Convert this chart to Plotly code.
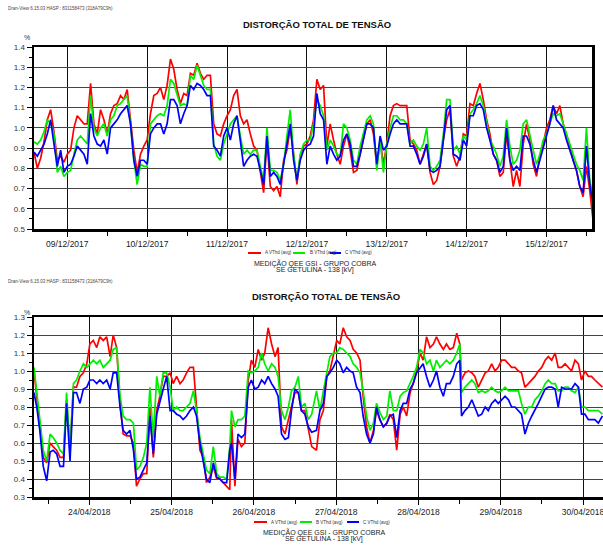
import pandas as pd
import plotly.graph_objects as go

# ---------------- data: top chart (hourly from 08/12/2017 14:00) ----------------
top_start = "2017-12-08 14:00"
top_A = [0.88,0.80,0.85,0.93,1.04,1.09,0.98,0.84,0.86,0.83,0.87,0.89,1.00,1.06,1.04,1.02,1.02,1.22,1.02,0.97,
         1.09,1.04,0.97,1.07,1.11,1.12,1.16,1.14,1.19,1.04,0.89,0.78,0.87,0.91,0.94,1.07,1.16,1.17,1.20,1.14,
         1.21,1.34,1.29,1.19,1.12,1.17,1.16,1.27,1.26,1.32,1.27,1.24,1.26,1.26,1.02,0.97,0.96,1.02,1.06,1.09,
         1.16,1.19,1.06,1.02,1.04,0.97,0.91,0.89,0.78,0.68,0.94,0.71,0.69,0.71,0.66,0.84,0.89,1.00,0.87,0.72,
         0.86,0.91,0.92,0.96,1.04,1.24,1.19,1.21,0.91,1.02,0.94,0.87,0.82,0.91,0.97,0.89,0.78,0.79,0.87,0.94,
         1.02,1.04,0.97,0.81,0.94,0.82,0.92,1.06,1.11,1.12,1.11,1.11,1.11,0.94,0.92,0.89,0.82,0.87,0.92,0.78,
         0.72,0.74,0.81,0.94,1.04,1.09,0.86,0.81,0.86,0.97,0.96,1.12,1.11,1.17,1.22,1.14,1.04,0.97,0.87,0.84,
         0.76,0.78,0.97,0.84,0.71,0.79,0.71,0.92,1.02,0.94,0.82,0.76,0.86,0.92,1.00,1.04,1.11,1.07,1.11,1.02,
         0.97,0.91,0.84,0.79,0.71,0.66,0.81,0.69,0.54]
top_B = [0.93,0.92,0.94,0.98,1.04,1.02,0.97,0.78,0.81,0.76,0.78,0.79,0.87,0.94,0.96,0.94,0.92,1.16,1.00,0.96,
         1.00,1.02,0.96,1.04,1.06,1.11,1.12,1.14,1.16,1.02,0.84,0.72,0.82,0.81,0.81,1.02,1.04,1.06,1.07,1.06,
         1.11,1.24,1.22,1.17,1.11,1.12,1.11,1.26,1.24,1.31,1.26,1.21,1.19,1.19,0.92,0.86,0.84,0.92,0.97,1.02,
         1.04,1.06,0.96,0.87,0.89,0.87,0.89,0.89,0.81,0.74,1.00,0.79,0.79,0.78,0.74,0.82,0.96,1.09,0.87,0.74,
         0.87,0.92,0.94,0.94,1.02,1.14,1.11,1.06,0.89,0.94,0.91,0.87,0.86,1.02,1.00,0.94,0.84,0.82,0.91,0.97,
         1.04,1.06,1.02,0.79,0.94,0.78,0.92,1.00,1.06,1.06,1.04,1.04,1.02,0.92,0.94,0.91,0.89,0.92,1.00,0.81,
         0.79,0.81,0.84,0.97,1.14,1.14,0.89,0.91,0.87,0.96,0.94,1.07,1.09,1.12,1.16,1.11,1.02,0.94,0.91,0.87,
         0.81,0.86,1.04,0.91,0.82,0.84,0.89,1.02,1.04,0.96,0.89,0.82,0.87,0.94,0.97,1.02,1.07,1.06,1.07,1.02,
         0.97,0.91,0.86,0.82,0.79,0.74,1.00,0.74,0.66]
top_C = [0.88,0.86,0.89,0.92,0.97,1.04,0.92,0.81,0.89,0.78,0.81,0.82,0.86,0.91,0.89,0.87,0.82,1.07,0.96,0.92,
         0.91,0.94,0.87,1.00,1.02,1.04,1.07,1.09,1.11,1.02,0.84,0.76,0.84,0.84,0.82,0.97,1.00,1.02,1.02,0.97,
         1.02,1.14,1.14,1.11,1.02,1.07,1.11,1.21,1.19,1.22,1.21,1.19,1.16,1.16,0.91,0.89,0.86,0.96,1.00,0.94,
         1.02,1.06,0.92,0.81,0.84,0.86,0.87,0.86,0.79,0.72,0.96,0.76,0.78,0.76,0.72,0.82,0.94,1.02,0.84,0.74,
         0.84,0.89,0.91,0.92,0.96,1.17,1.07,1.04,0.82,0.91,0.87,0.84,0.86,0.94,0.97,0.92,0.81,0.81,0.87,0.94,
         1.02,1.02,1.00,0.82,0.96,0.89,0.91,0.97,1.02,1.04,1.02,1.02,1.02,0.91,0.91,0.87,0.82,0.86,0.92,0.79,
         0.78,0.79,0.81,0.94,1.09,1.11,0.87,0.86,0.84,0.94,0.91,1.06,1.06,1.11,1.12,1.09,1.00,0.94,0.87,0.84,
         0.78,0.81,1.00,0.84,0.79,0.81,0.79,0.96,0.96,0.92,0.84,0.78,0.84,0.91,0.97,1.02,1.11,1.04,1.02,1.00,
         0.94,0.89,0.84,0.79,0.71,0.68,0.91,0.72,0.62]
top_range = ["2017-12-08 14:00", "2017-12-15 13:40"]
top_ticks0 = "2017-12-09"

# ---------------- data: bottom chart (hours after 23/04/2018 07:52) ----------------
bot_start = "2018-04-23 07:52"
bot_hours = [0.0,0.8,1.7,2.7,3.7,4.7,5.6,6.6,7.6,8.6,9.5,10.5,11.5,12.4,13.4,14.4,15.4,16.3,17.3,18.3,
             19.2,20.2,21.2,22.2,23.1,24.1,25.1,26.0,27.0,28.0,29.0,29.9,30.9,31.9,32.9,33.8,34.8,35.8,36.7,37.7,
             38.7,39.7,40.6,41.6,42.6,43.5,44.5,45.5,46.5,47.4,48.4,49.4,50.3,51.3,52.3,53.3,54.2,55.2,56.2,57.1,
             57.6,58.6,59.5,60.5,61.5,62.5,63.4,64.4,65.4,66.4,67.3,68.3,69.3,70.3,71.2,72.2,73.2,74.2,75.1,76.1,
             77.1,78.0,79.0,80.0,81.0,82.4,83.4,84.4,85.4,86.3,87.3,88.3,89.2,90.2,91.2,92.2,93.1,94.1,95.1,96.0,
             97.0,98.0,99.0,99.9,100.9,101.9,102.9,103.8,104.8,105.8,106.8,107.7,108.7,109.7,110.6,111.6,112.6,113.5,114.5,115.5,
             116.5,117.4,118.4,119.4,120.3,121.3,122.3,123.3,124.2,124.7,125.7,126.7,127.7,128.6,129.6,130.6,131.6,132.5,133.5,134.5,
             135.4,136.4,137.4,138.4,139.3,140.3,141.3,142.2,143.2,144.2,145.2,146.1,147.1,148.1,149.1,150.0,151.0,152.0,152.9,153.9,
             154.9,155.8,156.8,157.8,158.8,159.7,160.7,161.7,162.6,163.6,164.6,165.8]
bot_A = [1.00,0.86,0.71,0.52,0.49,0.60,0.58,0.56,0.52,0.52,0.84,0.56,0.91,0.91,0.97,0.99,1.04,1.15,1.17,1.13,
         1.19,1.17,1.19,1.08,1.20,1.13,0.82,0.65,0.64,0.64,0.60,0.36,0.40,0.43,0.43,0.80,0.52,0.78,0.86,0.97,
         0.97,0.99,0.93,0.97,0.93,0.95,0.99,1.02,1.02,0.78,0.56,0.52,0.38,0.41,0.47,0.40,0.40,0.38,0.36,0.34,
         0.73,0.36,0.62,0.58,0.60,0.95,1.06,1.02,1.12,1.06,1.10,1.24,1.15,1.08,1.13,0.69,0.65,0.73,0.80,0.88,
         0.88,0.78,0.78,0.67,0.58,0.56,0.73,0.78,0.97,1.00,1.08,1.17,1.15,1.24,1.19,1.17,1.12,1.10,1.06,0.86,
         0.69,0.60,0.67,0.78,0.73,0.69,0.71,0.76,0.73,0.56,0.76,0.80,0.75,0.88,0.93,1.00,1.10,1.06,1.19,1.13,
         1.15,1.19,1.15,1.12,1.15,1.12,1.13,1.21,1.15,0.95,0.99,1.00,0.99,0.97,0.91,0.95,0.99,1.00,1.04,1.00,
         1.02,1.06,1.06,1.04,1.02,1.02,1.00,0.99,0.91,0.93,0.95,0.97,1.00,1.02,1.06,1.08,1.06,1.10,1.02,1.02,
         1.04,1.02,1.00,1.06,1.04,0.95,1.00,0.97,0.97,0.95,0.93,0.91]
bot_B = [1.02,0.89,0.75,0.56,0.50,0.65,0.63,0.60,0.56,0.54,0.88,0.56,0.93,0.95,1.00,1.04,1.02,1.04,1.06,1.04,
         1.06,1.02,1.04,1.06,1.12,1.13,0.86,0.75,0.73,0.73,0.71,0.45,0.47,0.52,0.60,0.91,0.63,0.97,0.86,0.99,
         0.99,0.91,0.78,0.80,0.78,0.78,0.80,0.82,0.89,0.78,0.63,0.54,0.45,0.43,0.58,0.43,0.41,0.41,0.40,0.58,
         0.78,0.69,0.73,0.73,0.75,1.00,0.99,1.00,1.02,1.10,1.04,1.00,1.04,1.02,0.97,0.78,0.73,0.80,0.89,0.91,
         0.97,0.80,0.82,0.73,0.76,0.89,0.78,0.89,1.00,1.08,1.10,1.10,1.13,1.12,1.10,1.08,1.04,1.02,0.99,0.89,
         0.75,0.67,0.71,0.82,0.77,0.73,0.75,0.89,0.78,0.78,0.86,0.88,0.89,0.93,0.97,1.02,1.12,1.10,1.04,1.06,
         1.00,1.06,1.02,1.04,1.06,1.04,1.06,1.10,1.15,0.88,0.91,0.93,0.95,0.93,0.88,0.89,0.88,0.89,0.91,0.89,
         0.88,0.89,0.91,0.89,0.89,0.89,0.89,0.82,0.76,0.80,0.80,0.84,0.86,0.89,0.93,0.95,0.93,0.93,0.89,0.89,
         0.91,0.91,0.89,0.88,0.91,0.80,0.80,0.78,0.78,0.78,0.78,0.76]
bot_C = [0.88,0.80,0.67,0.47,0.39,0.55,0.56,0.54,0.47,0.47,0.82,0.50,0.88,0.88,0.82,0.90,0.91,0.95,0.95,0.93,
         0.95,0.93,0.95,0.90,0.99,0.99,0.80,0.67,0.65,0.67,0.56,0.40,0.41,0.45,0.49,0.75,0.54,0.76,0.82,0.90,
         0.97,0.78,0.78,0.76,0.75,0.73,0.75,0.78,0.80,0.75,0.60,0.49,0.40,0.38,0.49,0.41,0.40,0.38,0.38,0.56,
         0.60,0.40,0.65,0.63,0.65,0.91,0.95,0.90,0.91,0.95,0.93,0.97,0.93,0.90,0.86,0.65,0.62,0.63,0.78,0.90,
         0.88,0.78,0.76,0.69,0.66,0.67,0.78,0.82,0.97,0.99,1.02,1.06,1.04,0.99,1.02,1.00,0.99,0.91,0.88,0.75,
         0.65,0.60,0.65,0.80,0.73,0.69,0.71,0.75,0.76,0.63,0.78,0.82,0.82,0.90,0.93,0.99,1.02,1.04,0.97,0.91,
         0.95,1.00,0.91,0.86,0.93,0.93,0.97,1.04,1.06,0.75,0.78,0.80,0.84,0.80,0.75,0.76,0.80,0.78,0.82,0.84,
         0.82,0.84,0.86,0.84,0.80,0.80,0.78,0.76,0.65,0.71,0.75,0.78,0.82,0.86,0.90,0.91,0.91,0.90,0.80,0.91,
         0.90,0.90,0.90,0.93,0.91,0.76,0.76,0.73,0.73,0.73,0.71,0.75]
bot_range = ["2018-04-23 07:52", "2018-04-30 05:50"]
bot_ticks0 = "2018-04-24"

series_names = ["A VThd (avg)", "B VThd (avg)", "C VThd (avg)"]
series_colors = ["#ff0000", "#00ee00", "#0000ff"]

# ---------------- figure ----------------
W, H = 603, 545
ML, MR, MT, MB = 34, 0, 47, 48
PW, PH = W - ML - MR, H - MT - MB

def px(x, y):
    return (x - ML) / PW, (H - MB - y) / PH

top_x = pd.date_range(top_start, periods=len(top_A), freq="h")
bot_x = pd.Timestamp(bot_start) + pd.to_timedelta(bot_hours, unit="h")

fig = go.Figure()
for vals, name, col in zip([top_A, top_B, top_C], series_names, series_colors):
    fig.add_trace(go.Scatter(x=top_x, y=vals, mode="lines", name=name,
                             line=dict(color=col, width=1.7), xaxis="x", yaxis="y", showlegend=False))
for vals, name, col in zip([bot_A, bot_B, bot_C], series_names, series_colors):
    fig.add_trace(go.Scatter(x=bot_x, y=vals, mode="lines", name=name,
                             line=dict(color=col, width=1.7), xaxis="x2", yaxis="y2", showlegend=False))

FONT = "Liberation Sans, Arial, sans-serif"
DAY = 86400000

def xax(domain, anchor, rng, t0, minor0, mirror=True):
    return dict(domain=domain, anchor=anchor, type="date", range=rng,
                tick0=t0, dtick=DAY, tickformat="%d/%m/%Y",
                ticks="outside", ticklen=5, tickwidth=1, tickcolor="black",
                tickfont=dict(size=8.5, color="#222", family=FONT),
                ticklabeloverflow="allow", automargin=False,
                showgrid=True, gridcolor="#111", gridwidth=1,
                showline=True, linecolor="black", linewidth=2.5, mirror=mirror,
                minor=dict(tick0=minor0, dtick=DAY, ticks="outside", ticklen=4,
                           tickcolor="black", showgrid=False),
                zeroline=False, fixedrange=True)

def yax(domain, anchor, rng, mirror=True):
    return dict(domain=domain, anchor=anchor, range=rng, dtick=0.1, tick0=0,
                tickformat=".1f", ticks="outside", ticklen=5, tickcolor="black",
                tickfont=dict(size=8, color="#333", family=FONT),
                automargin=False,
                showgrid=True, gridcolor="#444", gridwidth=1,
                showline=True, linecolor="black", linewidth=2.5, mirror=mirror,
                minor=dict(dtick=0.05, ticks="outside", ticklen=3, tickcolor="black", showgrid=False),
                zeroline=False, fixedrange=True)

top_dom_x = [0, (592 - ML) / PW]
top_dom_y = [px(0, 229)[1], 1.0]
bot_dom_y = [0.0, px(0, 317)[1]]

fig.update_layout(
    width=W, height=H,
    margin=dict(l=ML, r=MR, t=MT, b=MB),
    paper_bgcolor="white", plot_bgcolor="white",
    font=dict(family=FONT, color="#222"),
    hovermode=False,
    xaxis=xax(top_dom_x, "y", top_range, top_ticks0, "2017-12-08 12:00"),
    yaxis=yax(top_dom_y, "x", [0.5, 1.4]),
    xaxis2=xax([0, 1], "y2", bot_range, bot_ticks0, "2018-04-23 12:00"),
    yaxis2=yax(bot_dom_y, "x2", [0.3, 1.3], mirror=False),
)

ann = []
shapes = []

def text(x, y, s, size, anchor="center", bold=False, color="#222"):
    xp, yp = px(x, y)
    ann.append(dict(x=xp, y=yp, xref="paper", yref="paper", text=(f"<b>{s}</b>" if bold else s),
                    showarrow=False, xanchor=anchor, yanchor="middle",
                    font=dict(size=size, color=color, family=FONT)))

header = "Dran-View 6.15.03 HASP : 831158473 (318A79C9h)"
title = "DISTORÇÃO TOTAL DE TENSÃO"
sub1 = "MEDIÇÃO QEE GSI - GRUPO COBRA"
sub2 = "SE GETULINA - 138 [kV]"

for hy, ty, pcty, cx, ly, s1y, s2y, leg_x in [
    (9, 25, 38, 317, 253, 263, 270, [(248, 261, 263), (293, 305, 308), (330, 341, 343)]),
    (281, 296, 312, 326, 522, 532, 539, [(254, 267, 269), (300, 312, 314), (347, 359, 361)]),
]:
    text(6, hy, header, 4.5, anchor="left", color="#444")
    text(cx, ty, title, 9.5, bold=True, color="#111")
    text(27, pcty, "%", 7, color="#333")
    for (x0, x1, tx), name, col in zip(leg_x, series_names, series_colors):
        a0, b0 = px(x0, ly)
        a1, _ = px(x1, ly)
        shapes.append(dict(type="line", xref="paper", yref="paper", x0=a0, x1=a1, y0=b0, y1=b0,
                           line=dict(color=col, width=2)))
        text(tx, ly, name, 4.5, anchor="left", color="#333")
    text(cx - 2, s1y, sub1, 7, color="#222")
    text(cx - 2, s2y, sub2, 7, color="#222")

fig.update_layout(annotations=ann, shapes=shapes)
fig.write_html("out.html",
               config={"displayModeBar": False, "staticPlot": True},
               post_script="document.body.style.margin='0';document.body.style.overflow='hidden';")
